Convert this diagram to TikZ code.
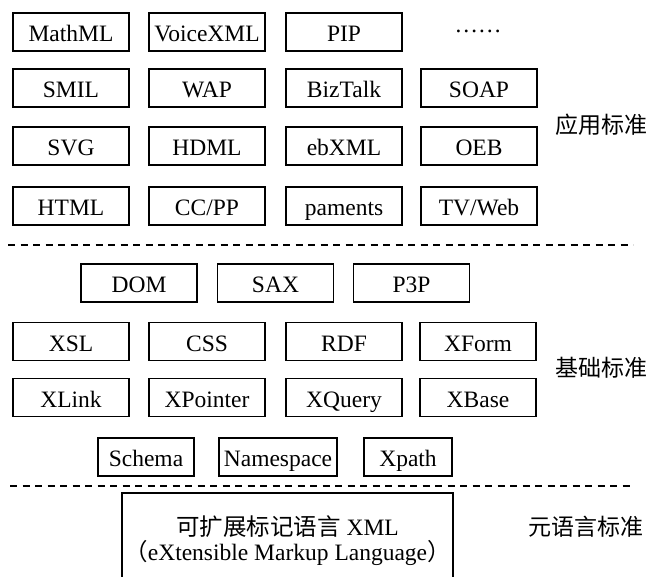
\documentclass[tikz,border=0pt]{standalone}
\usepackage{fontspec}
\setmainfont{Liberation Serif}
\newfontfamily\cjk{Noto Sans CJK SC}
\begin{document}
\begin{tikzpicture}[x=1pt,y=-1pt,
  every node/.style={font=\fontsize{23.5}{26}\selectfont},
  bx/.style={draw, line width=1.7pt, minimum width=116pt, minimum height=38pt, inner sep=0pt,
    text height=20pt, text depth=0.6pt},
  sbx/.style={bx, minimum width=#1},
  lab/.style={font=\cjk\fontsize{23}{26}\selectfont},
  sep/.style={line width=1.6pt, dash pattern=on 7pt off 5.5pt}]
\useasboundingbox (0,0) rectangle (652,577);
% application standards
\node[bx] (mathml) at (71,32) {MathML};
\node[bx] (voicexml) at (207,32) {VoiceXML};
\node[bx] (pip) at (344,32) {PIP};
\node[anchor=base] (more) at (478,33) {……};
\node[bx] (smil) at (71,88) {SMIL};
\node[bx] (wap) at (207,88) {WAP};
\node[bx] (biztalk) at (344,88) {BizTalk};
\node[bx] (soap) at (479,88) {SOAP};
\node[bx] (svg) at (71,146) {SVG};
\node[bx] (hdml) at (207,146) {HDML};
\node[bx] (ebxml) at (344,146) {ebXML};
\node[bx] (oeb) at (479,146) {OEB};
\node[bx] (html) at (71,206) {HTML};
\node[bx] (ccpp) at (207,206) {CC/PP};
\node[bx] (paments) at (344,206) {paments};
\node[bx] (tvweb) at (479,206) {TV/Web};
\node[lab] (app) at (601,125) {应用标准};
% separator 1
\coordinate (s1a) at (8,245);
\coordinate (s1b) at (633,245);
\draw[sep] (s1a) -- (s1b);
% basic standards
\node[bx] (dom) at (139,283) {DOM};
\node[bx] (sax) at (275.5,283) {SAX};
\node[bx] (p3p) at (411.5,283) {P3P};
\node[bx] (xsl) at (71,341.5) {XSL};
\node[bx] (css) at (207,341.5) {CSS};
\node[bx] (rdf) at (344,341.5) {RDF};
\node[bx] (xform) at (478,341.5) {XForm};
\node[bx] (xlink) at (71,397.5) {XLink};
\node[bx] (xpointer) at (207,397.5) {XPointer};
\node[bx] (xquery) at (344,397.5) {XQuery};
\node[bx] (xbase) at (478,397.5) {XBase};
\node[lab] (basic) at (601,368) {基础标准};
\node[sbx=96pt] (schema) at (146,457) {Schema};
\node[sbx=118pt] (namespace) at (278,457) {Namespace};
\node[sbx=88pt] (xpath) at (408,457) {Xpath};
% separator 2
\coordinate (s2a) at (10,486);
\coordinate (s2b) at (633,486);
\draw[sep] (s2a) -- (s2b);
% meta language
\node[minimum width=330pt, minimum height=86pt, inner sep=0pt] (xml) at (287.5,536) {};
\draw[line width=1.7pt] (xml.south west) |- (xml.north east) -- (xml.south east);
\node[align=center, inner sep=0pt] (xmltext) at (287.5,540.5)
  {{\cjk 可扩展标记语言} XML\\[-1pt]{\cjk （}eXtensible Markup Language{\cjk ）}};
\node[lab] (meta) at (586,527) {元语言标准};
\end{tikzpicture}
\end{document}
